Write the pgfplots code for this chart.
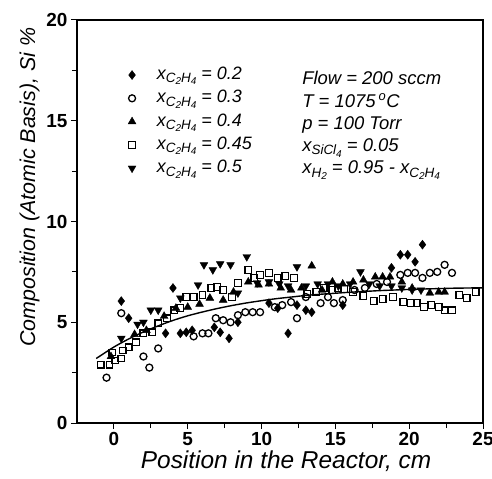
\documentclass[border=0pt]{standalone}
\usepackage{fontspec}
\setmainfont{Liberation Sans}
\usepackage{pgfplots}
\pgfplotsset{compat=1.18}
\newcommand{\sbA}[1]{\raisebox{-0.35ex}{\fontsize{13.5}{13.5}\selectfont #1}}
\newcommand{\sbB}[1]{\raisebox{-0.3ex}{\fontsize{10}{10}\selectfont #1}}
\newcommand{\xce}{x\sbA{C\sbB{2}H\sbB{4}}}
\begin{document}
\begin{tikzpicture}
\path[use as bounding box] (-77bp,-56bp) rectangle (415bp,423bp);
\begin{axis}[
  at={(0,0)}, anchor=south west, scale only axis,
  width=406bp, height=403bp,
  xmin=-2.5, xmax=25, ymin=0, ymax=20,
  xtick={0,5,...,25}, ytick={0,5,...,20},
  minor x tick num=1, minor y tick num=1,
  tick align=outside, tick pos=left,
  major tick length=6bp, minor tick length=5bp,
  axis line style={line width=1.4bp},
  tick style={line width=1bp, black},
  /pgf/number format/assume math mode=true,
  ticklabel style={font=\fontsize{19}{19}\selectfont\bfseries},
  xlabel={\itshape Position in the Reactor, cm},
  ylabel={\itshape Composition (Atomic Basis), Si \%},
  xlabel style={at={(ticklabel cs:0.515)}, yshift=2bp, font=\fontsize{24.5}{24.5}\selectfont},
  ylabel style={at={(ticklabel cs:0.585)}, font=\fontsize{21.5}{21.5}\selectfont},
  legend cell align=left,
  legend style={draw=none, fill=none, at={(axis cs:0.75,17.85)}, anchor=north west,
    font=\fontsize{18}{18}\selectfont\itshape, column sep=20bp,
    nodes={inner sep=1bp, text height=13bp, text depth=4bp}, row sep=4.3bp},
]
\addplot[only marks, mark=diamond*, mark size=4.5bp, black] table {
x y
0.5 6.05
1.0 5.2
3.5 4.45
4.0 6.7
4.5 4.45
4.9 4.5
5.3 4.6
6.8 4.75
7.2 4.5
7.8 4.2
8.4 5.0
10.5 5.95
11.1 5.7
11.8 4.45
12.4 5.85
13.0 5.6
13.4 5.5
15.5 5.85
18.8 7.7
19.4 8.35
19.9 8.35
20.4 8.0
20.9 8.85
};
\addlegendentry{\xce\ = 0.2}
\addplot[only marks, mark=o, mark size=3.5bp, line width=1.3bp, black] table {
x y
-0.5 2.25
0.5 5.45
2.0 3.3
2.4 2.75
3.0 3.7
5.4 4.3
6.0 4.45
6.4 4.45
6.9 5.2
7.4 5.1
7.9 5.0
8.4 5.35
8.9 5.5
9.4 5.5
9.9 5.5
10.9 5.75
11.4 5.85
12.0 6.0
12.4 5.2
13.0 6.25
14.0 5.95
14.5 6.25
14.9 5.95
15.5 6.1
16.3 6.6
17.0 6.7
17.8 6.9
18.5 7.0
19.4 7.35
19.9 7.45
20.4 7.45
20.9 7.2
21.4 7.45
21.9 7.5
22.4 7.85
22.9 7.45
};
\addlegendentry{\xce\ = 0.3}
\addplot[only marks, mark=triangle*, mark size=4.5bp, black] table {
x y
-0.2 3.3
1.4 4.4
2.2 4.6
3.4 5.3
4.2 5.7
5.0 5.75
5.8 5.9
6.5 6.2
7.4 6.1
8.1 6.5
9.1 7.0
9.8 6.85
10.5 6.9
11.3 6.7
12.0 6.6
12.7 6.7
13.4 7.8
14.1 6.6
14.8 7.0
15.5 6.9
16.2 7.0
16.9 7.1
17.7 7.25
18.2 7.25
18.7 7.25
19.5 7.0
20.2 6.7
21.4 6.45
22.0 6.5
22.4 6.5
};
\addlegendentry{\xce\ = 0.4}
\addplot[only marks, mark=square, mark size=3.3bp, line width=1.3bp, black] table {
x y
-0.9 2.9
-0.3 2.9
0.1 3.1
0.5 3.2
-0.1 3.5
0.6 3.6
1.0 3.75
1.5 4.0
2.0 4.45
2.6 4.5
3.0 4.95
3.6 5.2
4.1 5.6
4.5 5.7
4.9 6.25
5.4 6.25
6.0 6.35
6.6 6.7
7.0 6.75
7.4 6.6
8.0 6.25
8.4 6.95
9.1 7.6
9.5 7.2
9.9 7.35
10.5 7.45
11.1 7.2
11.6 7.3
12.2 7.2
13.1 6.4
13.7 6.5
14.2 6.7
14.8 6.6
15.2 6.7
15.6 6.65
16.2 6.5
16.9 6.3
17.6 6.05
18.2 6.15
18.9 6.25
19.6 6.0
20.1 5.95
20.5 5.95
21.0 5.75
21.5 5.85
22.0 5.75
22.4 5.6
22.9 5.6
23.4 6.35
23.9 6.2
24.5 6.5
};
\addlegendentry{\xce\ = 0.45}
\addplot[only marks, mark=triangle*, mark size=4.5bp, mark options={rotate=180}, black] table {
x y
0.5 4.2
1.6 4.9
2.0 5.0
2.5 5.6
3.0 5.6
4.5 6.2
5.7 6.85
6.1 7.85
6.7 7.6
7.2 7.9
7.9 7.85
8.4 6.45
9.0 8.25
9.7 6.95
10.5 7.0
11.2 6.9
11.8 6.8
12.4 7.75
13.0 6.8
13.8 6.9
14.5 6.9
15.2 6.8
16.0 6.9
16.7 7.5
17.3 6.9
18.0 6.8
18.8 6.8
19.5 6.7
20.2 6.6
20.8 6.6
};
\addlegendentry{\xce\ = 0.5}
\addplot[black, line width=1.4bp, smooth, no marks, forget plot] coordinates {
(-1.2,3.20) (0,3.77) (1,4.17) (2,4.52) (3,4.82) (4,5.09) (5,5.32) (6,5.51)
(7,5.68) (8,5.83) (9,5.96) (10,6.07) (11,6.17) (12,6.25) (13,6.33) (14,6.39)
(15,6.44) (16,6.49) (17,6.53) (18,6.57) (19,6.60) (20,6.63) (21,6.65)
(22,6.67) (23,6.69) (24,6.70) (25,6.71)
};
\node[anchor=north west, align=left, inner sep=0pt,
  font=\fontsize{18.5}{22.3}\selectfont\itshape] at (axis cs:12.75,17.45)
  {Flow = 200 sccm\\
   T = 1075\,\textsuperscript{o}C\\
   p = 100 Torr\\
   x\sbA{SiCl\sbB{4}} = 0.05\\
   x\sbA{H\sbB{2}} = 0.95 - \xce};
\end{axis}
\end{tikzpicture}
\end{document}
